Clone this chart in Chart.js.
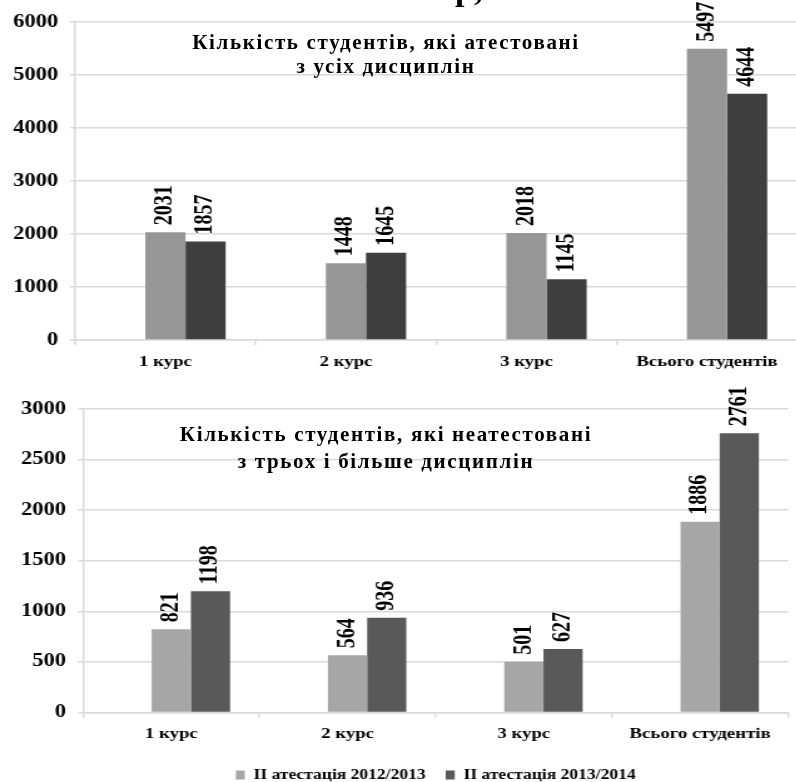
<!DOCTYPE html>
<html lang="uk">
<head>
<meta charset="utf-8">
<script src="https://cdn.jsdelivr.net/npm/chart.js@4.4.1/dist/chart.umd.min.js"></script>
<style>
html, body { margin: 0; padding: 0; background: #fff; overflow: hidden; }
body { width: 796px; height: 782px; position: relative; font-family: 'Liberation Serif', 'Times New Roman', serif; }
/* графіки в оригіналі розтягнуті по горизонталі */
.stretch { position: absolute; left: 0; transform: scaleX(1.25); transform-origin: 0 0; }
#box1 { top: 0; width: 636.8px; height: 375px; }
#box2 { top: 375px; width: 636.8px; height: 417px; }
.title { position: absolute; z-index: 2; font-weight: bold; font-size: 21px; letter-spacing: 1.65px;
         text-align: center; color: #000; white-space: nowrap; }
#t1 { left: 136px; width: 500px; top: 30px; line-height: 24px; }
#t2 { left: 136px; width: 500px; top: 421px; line-height: 27px; }
#cut { position: absolute; z-index: 2; left: 455px; top: -28px; font-size: 34px; line-height: 34px; font-weight: bold; }
</style>
</head>
<body>
<div id="cut">р,</div>
<div class="title" id="t1">Кількість студентів, які атестовані<br>з усіх дисциплін</div>
<div class="title" id="t2">Кількість студентів, які неатестовані<br>з трьох і більше дисциплін</div>
<div class="stretch" id="box1"><canvas id="chartTop"></canvas></div>
<div class="stretch" id="box2"><canvas id="chartBottom"></canvas></div>
<script>
// Дані
const categories = ['1 курс', '2 курс', '3 курс', 'Всього студентів'];
const seriesNames = ['II атестація 2012/2013', 'II атестація 2013/2014'];
const attested2013 = [2031, 1448, 2018, 5497];
const attested2014 = [1857, 1645, 1145, 4644];
const failed2013 = [821, 564, 501, 1886];
const failed2014 = [1198, 936, 627, 2761];
const ticksTop = [0, 1000, 2000, 3000, 4000, 5000, 6000];
const ticksBottom = [0, 500, 1000, 1500, 2000, 2500, 3000];

const FONT = "'Liberation Serif', 'Times New Roman', serif";
const GRID = '#d9d9d9';

// Вертикальні підписи значень над стовпцями
const rotatedLabels = {
    id: 'rotatedLabels',
    afterDatasetsDraw(chart) {
        const ctx = chart.ctx;
        ctx.save();
        ctx.font = 'bold 20px ' + FONT;
        ctx.fillStyle = '#000';
        ctx.textAlign = 'left';
        ctx.textBaseline = 'middle';
        chart.data.datasets.forEach((ds, i) => {
            if (i === 0) return; // порожня серія-заглушка
            chart.getDatasetMeta(i).data.forEach((bar, j) => {
                ctx.save();
                ctx.translate(bar.x, bar.y - 7);
                ctx.rotate(-Math.PI / 2);
                ctx.fillText(String(ds.data[j]), 0, 0);
                ctx.restore();
            });
        });
        ctx.restore();
    }
};

function makeChart(id, dataA, dataB, colors, ticks, opt) {
    return new Chart(document.getElementById(id), {
        type: 'bar',
        data: {
            labels: categories,
            datasets: [
                // перша серія в оригіналі порожня, але займає місце в групі
                { label: '', data: categories.map(() => null), backgroundColor: 'rgba(0,0,0,0)' },
                { label: seriesNames[0], data: dataA, backgroundColor: colors[0] },
                { label: seriesNames[1], data: dataB, backgroundColor: colors[1] }
            ]
        },
        options: {
            responsive: true,
            maintainAspectRatio: false,
            animation: false,
            layout: { padding: { top: opt.top, left: 0, right: opt.right, bottom: 0 } },
            datasets: { bar: { categoryPercentage: 0.667, barPercentage: 1 } },
            plugins: {
                tooltip: { enabled: false },
                legend: {
                    display: opt.legend,
                    position: 'bottom',
                    fullSize: false,
                    labels: {
                        boxWidth: 7.2,
                        boxHeight: 9,
                        padding: 16,
                        color: '#000',
                        font: { family: FONT, size: 14, weight: 'bold' },
                        filter: item => item.datasetIndex > 0
                    }
                }
            },
            scales: {
                x: {
                    grid: { drawOnChartArea: false, offset: true, tickLength: 5, color: GRID, lineWidth: 1.5 },
                    border: { color: GRID, width: 1.5 },
                    ticks: { color: '#000', padding: 8, maxRotation: 0, autoSkip: false,
                             font: { family: FONT, size: 15, weight: 'bold' } },
                    afterFit: s => { s.height = opt.xHeight; }
                },
                y: {
                    min: ticks[0],
                    max: ticks[ticks.length - 1],
                    grid: { color: GRID, lineWidth: 1.5, tickLength: 4 },
                    border: { color: GRID, width: 1.5 },
                    ticks: { stepSize: ticks[1] - ticks[0], color: '#000', padding: 9.6,
                             font: { family: FONT, size: 18, weight: 'bold' },
                             callback: v => String(v) },
                    afterFit: s => { s.width = opt.yWidth; }
                }
            }
        },
        plugins: [rotatedLabels]
    });
}

makeChart('chartTop', attested2013, attested2014, ['#969696', '#3f3f3f'], ticksTop,
    { top: 22, right: 0, xHeight: 35, yWidth: 60, legend: false });
makeChart('chartBottom', failed2013, failed2014, ['#a6a6a6', '#595959'], ticksBottom,
    { top: 34, right: 7.2, xHeight: 39.6, yWidth: 66.4, legend: true });
</script>
</body>
</html>
